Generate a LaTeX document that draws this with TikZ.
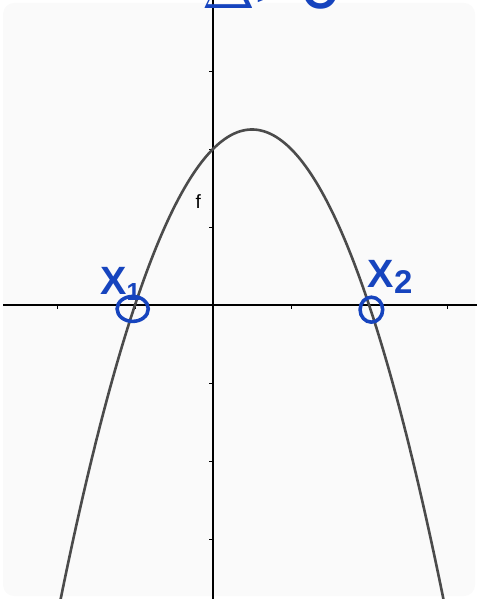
\documentclass[tikz,border=0pt]{standalone}
\usepackage{fontspec}
\setsansfont{Liberation Sans}
\usetikzlibrary{shapes.geometric}
\definecolor{ink}{RGB}{22,68,190}
\definecolor{curvegrey}{RGB}{75,75,75}
\definecolor{paper}{RGB}{250,250,250}

\begin{document}
\begin{tikzpicture}[x=1cm,y=1cm,
	hand/.style={ink, font=\sffamily\bfseries},
	ring/.style={draw=ink, line width=1.3pt, ellipse, inner sep=0pt}]

	\useasboundingbox (-2.731,-3.769) rectangle (3.385,3.910);
	\clip (-2.731,-3.769) rectangle (3.385,3.910);
	\fill[paper, rounded corners=4pt] (-2.692,-3.731) rectangle (3.359,3.872);

	% axes
	\draw[line width=0.4pt] (-2.692,0) -- (3.385,0);
	\draw[line width=0.4pt] (0,-3.769) -- (0,3.91);
	\foreach \x in {-2,-1,1,2,3}{
		\draw[line width=0.3pt] (\x,0) -- (\x,-0.05);
	}
	\foreach \y in {-3,-2,-1,1,2,3}{
		\draw[line width=0.3pt] (0,\y) -- (-0.05,\y);
	}

	% f(x) = -x^2 + x + 2
	\draw[curvegrey, line width=0.95pt, smooth, samples=120, domain=-1.97:2.97]
		plot (\x, {-(\x)*(\x)+\x+2});
	\node[font=\sffamily\scriptsize] (flabel) at (-0.19,1.32) {f};

	% handwriting
	\node[hand, font=\sffamily\fontsize{28}{28}\selectfont, anchor=base] (delta) at (0.76,3.80) {$\Delta$>0};
	\node[ring, minimum width=0.40cm, minimum height=0.32cm] (ring1) at (-1.03,-0.05) {};
	\node[ring, minimum width=0.29cm, minimum height=0.32cm] (ring2) at (2.03,-0.06) {};
	\node[hand, font=\sffamily\bfseries\Large] (x1) at (-1.19,0.27) {X\raisebox{-0.3ex}{\small 1}};
	\node[hand, font=\sffamily\bfseries\Large] (x2) at (2.27,0.36) {X\raisebox{-0.3ex}{\large 2}};

\end{tikzpicture}
\end{document}
